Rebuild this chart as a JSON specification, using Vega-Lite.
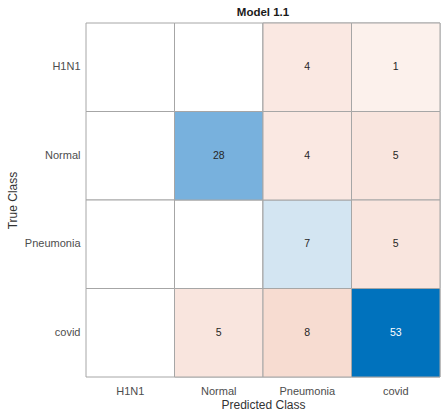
{
  "$schema": "https://vega.github.io/schema/vega-lite/v6.json",
  "autosize": "none",
  "padding": {"left": 86, "top": 23, "right": 1, "bottom": 37},
  "width": 354,
  "height": 354,
  "title": {"text": "Model 1.1", "fontSize": 11.5, "fontWeight": "bold", "font": "Liberation Sans", "color": "#1a1a1a", "offset": 4},
  "config": {"view": {"stroke": null}},
  "data": {"values": [
    {"trueClass": "H1N1", "predClass": "H1N1", "count": 0},
    {"trueClass": "H1N1", "predClass": "Normal", "count": 0},
    {"trueClass": "H1N1", "predClass": "Pneumonia", "count": 4},
    {"trueClass": "H1N1", "predClass": "covid", "count": 1},
    {"trueClass": "Normal", "predClass": "H1N1", "count": 0},
    {"trueClass": "Normal", "predClass": "Normal", "count": 28},
    {"trueClass": "Normal", "predClass": "Pneumonia", "count": 4},
    {"trueClass": "Normal", "predClass": "covid", "count": 5},
    {"trueClass": "Pneumonia", "predClass": "H1N1", "count": 0},
    {"trueClass": "Pneumonia", "predClass": "Normal", "count": 0},
    {"trueClass": "Pneumonia", "predClass": "Pneumonia", "count": 7},
    {"trueClass": "Pneumonia", "predClass": "covid", "count": 5},
    {"trueClass": "covid", "predClass": "H1N1", "count": 0},
    {"trueClass": "covid", "predClass": "Normal", "count": 5},
    {"trueClass": "covid", "predClass": "Pneumonia", "count": 8},
    {"trueClass": "covid", "predClass": "covid", "count": 53}
  ]},
  "encoding": {
    "x": {"field": "predClass", "type": "nominal", "sort": ["H1N1", "Normal", "Pneumonia", "covid"],
      "scale": {"paddingInner": 0, "paddingOuter": 0},
      "axis": {"title": "Predicted Class", "labelAngle": 0, "ticks": false, "domain": false, "labelPadding": 8,
        "labelFont": "Liberation Sans", "labelFontSize": 11, "labelColor": "#4d4d4d",
        "titleFont": "Liberation Sans", "titleFontSize": 12, "titleFontWeight": "normal", "titleColor": "#333333", "titlePadding": 3}},
    "y": {"field": "trueClass", "type": "nominal", "sort": ["H1N1", "Normal", "Pneumonia", "covid"],
      "scale": {"paddingInner": 0, "paddingOuter": 0},
      "axis": {"title": "True Class", "ticks": false, "domain": false, "labelPadding": 6,
        "labelFont": "Liberation Sans", "labelFontSize": 11, "labelColor": "#4d4d4d",
        "titleFont": "Liberation Sans", "titleFontSize": 12, "titleFontWeight": "normal", "titleColor": "#333333", "titlePadding": 5}}
  },
  "layer": [
    {"mark": {"type": "rect", "fill": "#ffffff", "stroke": "#a6a6a6", "strokeWidth": 1}},
    {"transform": [{"filter": "datum.trueClass === datum.predClass && datum.count > 0"}],
      "mark": {"type": "rect", "stroke": "#a6a6a6", "strokeWidth": 1},
      "encoding": {"color": {"field": "count", "type": "quantitative", "legend": null,
        "scale": {"domain": [0, 7, 28, 53], "range": ["#ffffff", "#d3e5f2", "#78b1dd", "#0072bd"]}}}},
    {"transform": [{"filter": "datum.trueClass !== datum.predClass && datum.count > 0"}],
      "mark": {"type": "rect", "stroke": "#a6a6a6", "strokeWidth": 1},
      "encoding": {"color": {"field": "count", "type": "quantitative", "legend": null,
        "scale": {"domain": [0, 1, 4, 5, 8], "range": ["#ffffff", "#fcf1ec", "#fae8e2", "#f9e5de", "#f7dcd1"]}}}},
    {"transform": [{"filter": "datum.count > 0"}],
      "mark": {"type": "text", "font": "Liberation Sans", "fontSize": 10.5},
      "encoding": {"text": {"field": "count", "type": "quantitative"},
        "color": {"condition": {"test": "datum.count > 40", "value": "#ffffff"}, "value": "#262626"}}}
  ],
  "resolve": {"scale": {"color": "independent"}}
}
